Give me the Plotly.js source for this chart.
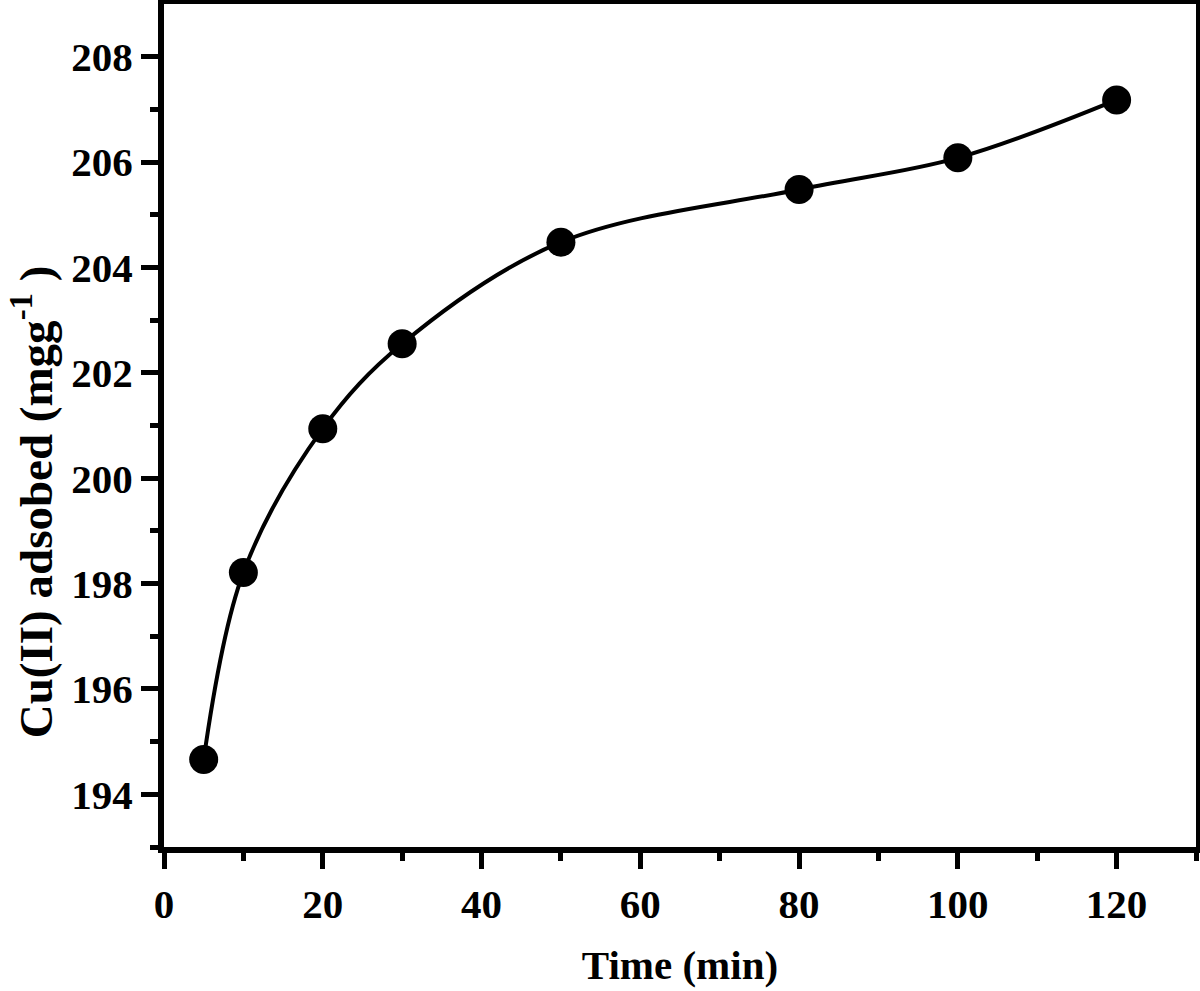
<!DOCTYPE html>
<html>
<head>
<meta charset="utf-8">
<script src="https://cdn.plot.ly/plotly-3.0.1.min.js"></script>
<style>html,body{margin:0;padding:0;background:#fff;}#chart{width:1200px;height:991px;}</style>
</head>
<body>
<div id="chart"></div>
<script>
const timeMin = [5, 10, 20, 30, 50, 80, 100, 120];
const cuAdsorbed = [194.66, 198.21, 200.94, 202.55, 204.48, 205.48, 206.08, 207.18];
const xTickVals = [0, 20, 40, 60, 80, 100, 120];
const yTickVals = [194, 196, 198, 200, 202, 204, 206, 208];

const fontFam = '"Liberation Serif", "Times New Roman", serif';

const traces = [
  {
    x: timeMin, y: cuAdsorbed, type: 'scatter', mode: 'lines',
    line: {color: '#000', width: 4, shape: 'spline', smoothing: 1},
    hoverinfo: 'skip', showlegend: false
  },
  {
    x: timeMin, y: cuAdsorbed, type: 'scatter', mode: 'markers',
    marker: {color: '#000', size: 29, symbol: 'circle'},
    showlegend: false
  }
];

const layout = {
  width: 1200, height: 991,
  margin: {l: 164, r: 4, t: 4, b: 144},
  paper_bgcolor: '#fff', plot_bgcolor: '#fff',
  font: {family: fontFam, color: '#000'},
  xaxis: {
    range: [0, 130], tickvals: xTickVals, ticktext: xTickVals.map(String),
    ticks: 'outside', ticklen: 16, tickwidth: 5, tickcolor: '#000',
    minor: {tickvals: [10, 30, 50, 70, 90, 110, 130], ticks: 'outside', ticklen: 8, tickwidth: 5, tickcolor: '#000'},
    showline: true, linewidth: 6, linecolor: '#000', mirror: true,
    showgrid: false, zeroline: false,
    tickfont: {family: fontFam, size: 41, color: '#000', weight: 'bold'},
    title: {text: '<b>Time (min)</b>', font: {family: fontFam, size: 41, color: '#000'}, standoff: 26}
  },
  yaxis: {
    range: [193, 209], tickvals: yTickVals, ticktext: yTickVals.map(String),
    ticks: 'outside', ticklen: 17, tickwidth: 5, tickcolor: '#000',
    minor: {tickvals: [193, 195, 197, 199, 201, 203, 205, 207], ticks: 'outside', ticklen: 8, tickwidth: 5, tickcolor: '#000'},
    showline: true, linewidth: 6, linecolor: '#000', mirror: true,
    showgrid: false, zeroline: false,
    tickfont: {family: fontFam, size: 41, color: '#000', weight: 'bold'}
  },
  annotations: [{
    text: '<b>Cu(II) adsobed (mgg<sup>-1</sup> )</b>',
    xref: 'paper', yref: 'paper', x: 0, y: 0.409,
    xanchor: 'center', yanchor: 'middle', xshift: -132,
    textangle: -90, showarrow: false,
    font: {family: fontFam, size: 47, color: '#000'}
  }]
};

Plotly.newPlot('chart', traces, layout, {displayModeBar: false, staticPlot: true});
</script>
</body>
</html>
